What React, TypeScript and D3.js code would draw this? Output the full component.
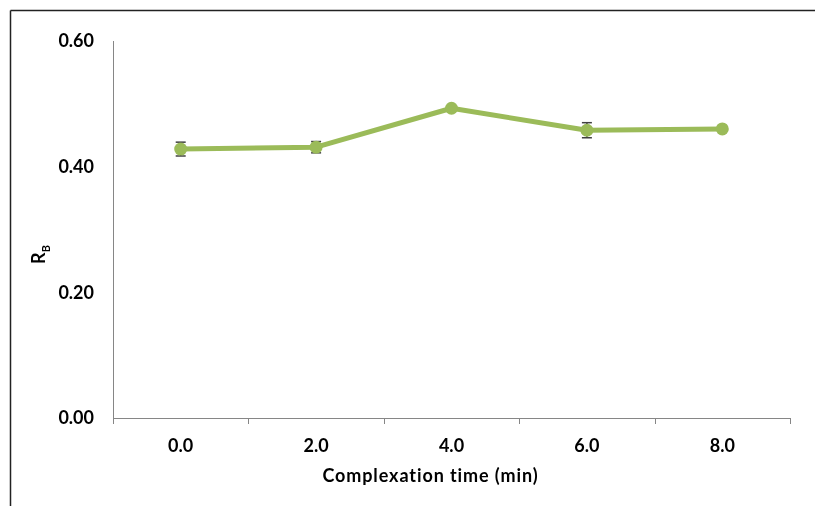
import { useEffect, useRef } from "react"
import * as d3 from "d3"

// Complexation time (min) categories
const times = ["0.0", "2.0", "4.0", "6.0", "8.0"]
// R_B values and error (std. dev.)
const rbValues = [0.428, 0.431, 0.493, 0.458, 0.46]
const rbErrors = [0.011, 0.009, 0.003, 0.012, 0.003]
const yTicks = [0, 0.2, 0.4, 0.6]

const FONT = "Lato, 'Open Sans', sans-serif"
const GREEN = "#9bbb59"

export default function App() {
  const svgRef = useRef<SVGSVGElement>(null)

  useEffect(() => {
    if (!svgRef.current) return
    const root = d3.select(svgRef.current)
    root.selectAll("*").remove()

    const W = 815
    const H = 506
    const margin = { top: 41, right: 25, bottom: 88, left: 113 }
    const width = W - margin.left - margin.right
    const height = H - margin.top - margin.bottom

    // Outer frame (only top and left edges visible)
    root.append("line").attr("x1", 10.5).attr("y1", 10.5).attr("x2", W).attr("y2", 10.5)
      .attr("stroke", "#222").attr("stroke-width", 1.5)
    root.append("line").attr("x1", 10.5).attr("y1", 10.5).attr("x2", 10.5).attr("y2", H)
      .attr("stroke", "#222").attr("stroke-width", 1.5)

    const svg = root.append("g").attr("transform", `translate(${margin.left},${margin.top})`)

    const xScale = d3.scaleBand<string>().domain(times).range([0, width])
    const yScale = d3.scaleLinear().domain([0, 0.6]).range([height, 0])

    const label = (sel: any) =>
      sel
        .style("font-family", FONT)
        .style("font-weight", "bold")
        .style("font-size", "18px")
        .attr("fill", "#000")

    // Y axis line
    svg.append("line").attr("x1", 0.5).attr("x2", 0.5).attr("y1", 0).attr("y2", height)
      .attr("stroke", "#868686").attr("stroke-width", 1)

    // Y tick labels
    svg.selectAll(".ytick").data(yTicks).enter().append("text")
      .attr("x", -19)
      .attr("y", (d) => yScale(d))
      .attr("dy", "0.35em")
      .attr("text-anchor", "end")
      .call(label)
      .text((d) => d.toFixed(2))

    // X axis
    svg.append("line").attr("x1", 0).attr("x2", width).attr("y1", height + 0.5).attr("y2", height + 0.5)
      .attr("stroke", "#868686").attr("stroke-width", 1)
    const bounds = times.map((t) => xScale(t) || 0).concat([width])
    svg.selectAll(".xtick").data(bounds).enter().append("line")
      .attr("x1", (d) => Math.round(d) + 0.5)
      .attr("x2", (d) => Math.round(d) + 0.5)
      .attr("y1", height)
      .attr("y2", height + 6)
      .attr("stroke", "#868686")

    svg.selectAll(".xlabel").data(times).enter().append("text")
      .attr("x", (d) => (xScale(d) || 0) + xScale.bandwidth() / 2)
      .attr("y", height + 34)
      .attr("text-anchor", "middle")
      .call(label)
      .text((d) => d)

    // Axis titles
    svg.append("text")
      .attr("x", width / 2 - 21)
      .attr("y", height + 64)
      .attr("text-anchor", "middle")
      .call(label)
      .style("letter-spacing", "0.9px")
      .text("Complexation time (min)")

    const yTitle = svg.append("text")
      .attr("transform", `translate(-68,${height / 2 + 25}) rotate(-90)`)
      .attr("text-anchor", "middle")
      .call(label)
    yTitle.append("tspan").text("R")
    yTitle.append("tspan").attr("dy", "5").style("font-size", "11px").text("B")

    const pts = times.map((t, i) => ({
      x: (xScale(t) || 0) + xScale.bandwidth() / 2,
      v: rbValues[i],
      e: rbErrors[i],
    }))

    // Error bars
    const eb = svg.append("g").attr("stroke", "#404040").attr("stroke-width", 1.5)
    pts.forEach((p) => {
      const y1 = yScale(p.v + p.e)
      const y2 = yScale(p.v - p.e)
      eb.append("line").attr("x1", p.x).attr("x2", p.x).attr("y1", y1).attr("y2", y2)
      eb.append("line").attr("x1", p.x - 5).attr("x2", p.x + 5).attr("y1", y1).attr("y2", y1)
      eb.append("line").attr("x1", p.x - 5).attr("x2", p.x + 5).attr("y1", y2).attr("y2", y2)
    })

    // Line
    const line = d3.line<any>().x((d) => d.x).y((d) => yScale(d.v))
    svg.append("path")
      .datum(pts)
      .attr("fill", "none")
      .attr("stroke", GREEN)
      .attr("stroke-width", 5)
      .attr("stroke-linejoin", "round")
      .attr("d", line)

    // Markers
    svg.selectAll(".pt").data(pts).enter().append("circle")
      .attr("cx", (d) => d.x)
      .attr("cy", (d) => yScale(d.v))
      .attr("r", 6.5)
      .attr("fill", GREEN)
  }, [])

  return (
    <div style={{ position: "fixed", left: 0, top: 0, width: 815, height: 506, overflow: "hidden" }}>
      <svg ref={svgRef} width={815} height={506} style={{ display: "block" }}></svg>
    </div>
  )
}
